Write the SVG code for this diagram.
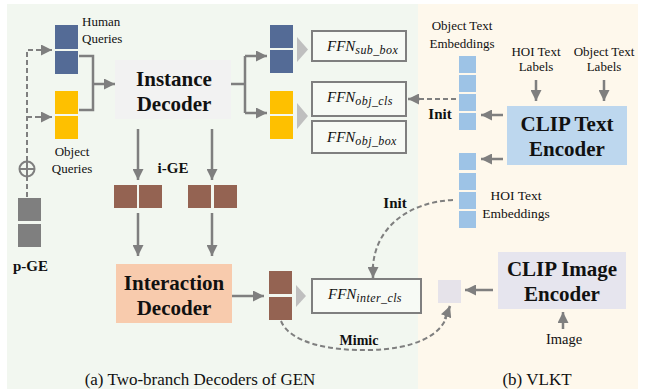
<svg xmlns="http://www.w3.org/2000/svg" width="645" height="389" viewBox="0 0 645 389" font-family="Liberation Serif, serif">
<defs>
<marker id="ah" viewBox="0 0 10 10" refX="10" refY="5" markerWidth="11" markerHeight="11" markerUnits="userSpaceOnUse" orient="auto">
<path d="M0,0 L10,5 L0,10 z" fill="#7f7f7f"/>
</marker>
<style>
.t{fill:#111}
.b{font-weight:bold}
.ln{stroke:#7f7f7f;stroke-width:2.5;fill:none}
.ds{stroke:#7f7f7f;stroke-width:2;fill:none;stroke-dasharray:5 3}
.blue{fill:#546b96}
.yel{fill:#fec000}
.brn{fill:#946352}
.lb{fill:#9dc3e6}
.ffn{fill:#f7faf5;stroke:#7f7f7f;stroke-width:2}
.tri{fill:#bfbfbf}
.fi{font-style:italic;fill:#111;font-size:15px}
</style>
</defs>
<rect x="0" y="0" width="645" height="389" fill="#ffffff"/>
<rect x="7" y="4" width="411" height="385" fill="#f2f7f0"/>
<rect x="418" y="4" width="220" height="385" fill="#fef8ec"/>

<g id="connectors">
<path class="ds" d="M27,197 V177 M27,161 V50 H40"/>
<path class="ds" d="M27,117 H40"/>
<line class="ds" x1="40" y1="50" x2="52" y2="50" stroke-dasharray="none" marker-end="url(#ah)"/>
<line class="ds" x1="40" y1="117" x2="52" y2="117" stroke-dasharray="none" marker-end="url(#ah)"/>
<path class="ln" d="M79,56 H93 V110 H79"/>
<line class="ln" x1="93" y1="84" x2="115" y2="84" marker-end="url(#ah)"/>
<path class="ln" d="M231,84 H245"/>
<path class="ln" d="M245,56 V113"/>
<line class="ln" x1="245" y1="56" x2="267" y2="56" marker-end="url(#ah)"/>
<line class="ln" x1="245" y1="113" x2="267" y2="113" marker-end="url(#ah)"/>
<line class="ln" x1="138" y1="129" x2="138" y2="180" marker-end="url(#ah)"/>
<line class="ln" x1="212" y1="129" x2="212" y2="180" marker-end="url(#ah)"/>
<line class="ln" x1="138" y1="213" x2="138" y2="256" marker-end="url(#ah)"/>
<line class="ln" x1="212" y1="213" x2="212" y2="256" marker-end="url(#ah)"/>
<line class="ln" x1="232" y1="296" x2="264" y2="296" marker-end="url(#ah)"/>
<path class="ds" d="M456,99 H420"/>
<line class="ln" x1="420" y1="99" x2="408" y2="99" stroke-width="2" marker-end="url(#ah)"/>
<line class="ln" x1="503" y1="115" x2="481" y2="115" marker-end="url(#ah)"/>
<line class="ln" x1="503" y1="159" x2="481" y2="159" marker-end="url(#ah)"/>
<line class="ln" x1="536" y1="80" x2="536" y2="101" marker-end="url(#ah)"/>
<line class="ln" x1="604" y1="80" x2="604" y2="101" marker-end="url(#ah)"/>
<line class="ln" x1="493" y1="290" x2="465" y2="290" marker-end="url(#ah)"/>
<line class="ln" x1="563" y1="329" x2="563" y2="312" marker-end="url(#ah)"/>
<path class="ds" d="M453,200 C410,202 376,226 373,266"/>
<line class="ln" x1="373" y1="266" x2="373" y2="278" stroke-width="2" marker-end="url(#ah)"/>
<path class="ds" d="M281,321 C290,343 330,351 370,350 C415,349 440,335 446,318"/>
<line class="ln" x1="445" y1="319" x2="450" y2="306" stroke-width="2" marker-end="url(#ah)"/>
</g>

<g id="p-ge">
<circle cx="27" cy="169" r="7.5" fill="none" stroke="#7f7f7f" stroke-width="2"/>
<path d="M19.5,169 H34.5 M27,161.5 V176.5" stroke="#7f7f7f" stroke-width="2"/>
<rect x="18" y="198" width="23" height="23" fill="#7f7f7f"/>
<rect x="18" y="224" width="23" height="23" fill="#7f7f7f"/>
<text class="t b" x="13" y="271" font-size="15">p-GE</text>
</g>

<g id="human-queries">
<rect class="blue" x="55" y="25" width="23" height="24"/>
<rect class="blue" x="55" y="51" width="23" height="23"/>
<text class="t" x="82" y="26" font-size="13">Human</text>
<text class="t" x="82" y="43" font-size="13">Queries</text>
</g>

<g id="object-queries">
<rect class="yel" x="55" y="91" width="23" height="23"/>
<rect class="yel" x="55" y="116" width="23" height="23"/>
<text class="t" x="72" y="156" font-size="13" text-anchor="middle">Object</text>
<text class="t" x="72" y="173" font-size="13" text-anchor="middle">Queries</text>
</g>

<g id="instance-decoder">
<rect x="115" y="60" width="116" height="59" fill="#f2f2f2"/>
<text class="t b" x="174" y="86" font-size="21" text-anchor="middle">Instance</text>
<text class="t b" x="174" y="111" font-size="21" text-anchor="middle">Decoder</text>
</g>

<g id="i-ge">
<rect class="brn" x="114" y="185" width="23" height="23"/>
<rect class="brn" x="139" y="185" width="23" height="23"/>
<rect class="brn" x="188" y="185" width="23" height="23"/>
<rect class="brn" x="214" y="185" width="23" height="23"/>
<text class="t b" x="173" y="173" font-size="15" text-anchor="middle">i-GE</text>
</g>

<g id="interaction-decoder">
<rect x="116" y="264" width="116" height="59" fill="#f8cbad"/>
<text class="t b" x="174" y="290" font-size="21" text-anchor="middle">Interaction</text>
<text class="t b" x="174" y="315" font-size="21" text-anchor="middle">Decoder</text>
</g>

<g id="sub-queries">
<rect class="blue" x="270" y="25" width="23" height="23"/>
<rect class="blue" x="270" y="50" width="23" height="23"/>
<polygon class="tri" points="297,37 308,49.5 297,62"/>
</g>
<g id="obj-queries-out">
<rect class="yel" x="270" y="91" width="23" height="23"/>
<rect class="yel" x="270" y="116" width="23" height="23"/>
<polygon class="tri" points="297,103 308,116 297,129"/>
</g>

<g id="ffn-sub-box">
<rect class="ffn" x="312" y="31" width="94" height="30"/>
<text class="fi" x="327" y="51">FFN<tspan font-size="12" dy="3" letter-spacing="0.4">sub_box</tspan></text>
</g>
<g id="ffn-obj-cls">
<rect class="ffn" x="312" y="82" width="94" height="34"/>
<text class="fi" x="327" y="102">FFN<tspan font-size="12" dy="3" letter-spacing="0.4">obj_cls</tspan></text>
</g>
<g id="ffn-obj-box">
<rect class="ffn" x="312" y="121" width="94" height="32"/>
<text class="fi" x="327" y="142">FFN<tspan font-size="12" dy="3" letter-spacing="0.4">obj_box</tspan></text>
</g>

<g id="inter-out">
<rect class="brn" x="269" y="271" width="23" height="23"/>
<rect class="brn" x="269" y="297" width="23" height="23"/>
<polygon class="tri" points="296,285 306,296 296,307"/>
</g>
<g id="ffn-inter-cls">
<rect class="ffn" x="312" y="279" width="109" height="34"/>
<text class="fi" x="328" y="299">FFN<tspan font-size="12" dy="3" letter-spacing="0.4">inter_cls</tspan></text>
</g>

<g id="labels">
<text class="t b" x="395" y="208" font-size="15" text-anchor="middle">Init</text>
<text class="t b" x="359" y="345" font-size="14" text-anchor="middle">Mimic</text>
<text class="t b" x="440" y="119" font-size="15" text-anchor="middle">Init</text>
</g>

<g id="object-text-embeddings">
<rect class="lb" x="459" y="56" width="17" height="17"/>
<rect class="lb" x="459" y="75" width="17" height="17"/>
<rect class="lb" x="459" y="94" width="17" height="17"/>
<rect class="lb" x="459" y="113" width="17" height="17"/>
<text class="t" x="462" y="30" font-size="13" text-anchor="middle">Object Text</text>
<text class="t" x="462" y="48" font-size="13" text-anchor="middle">Embeddings</text>
</g>

<g id="hoi-text-embeddings">
<rect class="lb" x="459" y="153" width="17" height="17"/>
<rect class="lb" x="459" y="173" width="17" height="17"/>
<rect class="lb" x="459" y="192" width="17" height="17"/>
<rect class="lb" x="459" y="211" width="17" height="17"/>
<text class="t" x="516" y="200" font-size="13.5" text-anchor="middle">HOI Text</text>
<text class="t" x="516" y="218" font-size="13.5" text-anchor="middle">Embeddings</text>
</g>

<g id="clip-text-encoder">
<rect x="507" y="106" width="120" height="59" fill="#bdd7ee"/>
<text class="t b" x="567" y="131" font-size="21" text-anchor="middle">CLIP Text</text>
<text class="t b" x="567" y="156" font-size="21" text-anchor="middle">Encoder</text>
</g>

<g id="text-labels">
<text class="t" x="536" y="56" font-size="13" text-anchor="middle">HOI Text</text>
<text class="t" x="536" y="71" font-size="13" text-anchor="middle">Labels</text>
<text class="t" x="604" y="56" font-size="13" text-anchor="middle">Object Text</text>
<text class="t" x="604" y="71" font-size="13" text-anchor="middle">Labels</text>
</g>

<g id="image-feature">
<rect x="438" y="280" width="23" height="23" fill="#e6e3ea"/>
</g>

<g id="clip-image-encoder">
<rect x="498" y="252" width="128" height="57" fill="#e6e5ee"/>
<text class="t b" x="562" y="276" font-size="21" text-anchor="middle">CLIP Image</text>
<text class="t b" x="562" y="301" font-size="21" text-anchor="middle">Encoder</text>
</g>

<g id="image">
<text class="t" x="564" y="344" font-size="14.5" text-anchor="middle">Image</text>
</g>

<g id="captions">
<text class="t" x="200" y="385" font-size="17" text-anchor="middle">(a) Two-branch Decoders of GEN</text>
<text class="t" x="537" y="385" font-size="17" text-anchor="middle">(b) VLKT</text>
</g>
</svg>
